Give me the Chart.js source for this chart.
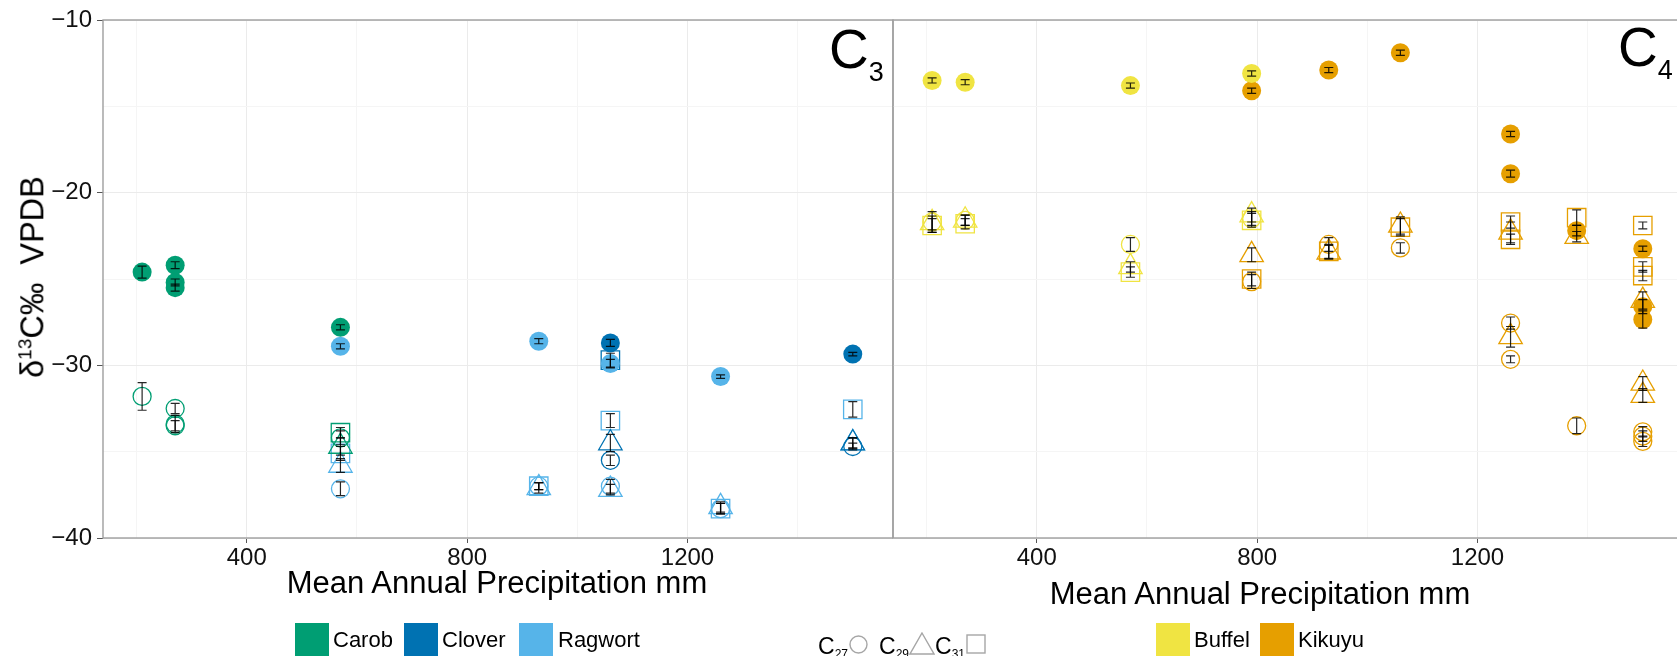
<!DOCTYPE html>
<html>
<head>
<meta charset="utf-8">
<title>d13C vs mean annual precipitation</title>
<script src="https://cdn.jsdelivr.net/npm/chart.js@4.4.1/dist/chart.umd.min.js"></script>
<style>
  html, body { margin: 0; padding: 0; overflow: hidden; background: #fff; }
  body { position: relative; width: 1677px; height: 656px; font-family: "Liberation Sans", Arial, Helvetica, sans-serif; color: #000; }
  canvas { position: absolute; top: 0; }
  #c3Chart { left: 0; }
  #c4Chart { left: 888px; }
  .txt { position: absolute; white-space: nowrap; line-height: 1; }
  .xtitle { font-size: 31px; width: 600px; text-align: center; }
  .panel { font-size: 55px; }
  .panel span { font-size: 27px; position: relative; top: 13px; }
  .sw { position: absolute; top: 623px; width: 34px; height: 34px; }
  .key { font-size: 22px; top: 629px; }
  .shp { font-size: 23px; top: 635px; }
  .shp sub { font-size: 12px; vertical-align: -4px; }
  .icon { position: absolute; }
  #ytitle { font-size: 32.5px; left: 32px; top: 277px; transform: translate(-50%, -50%) rotate(-90deg); }
  #ytitle sup { font-size: 19px; }
</style>
</head>
<body>
<canvas id="c3Chart" width="900" height="656"></canvas>
<canvas id="c4Chart" width="800" height="656"></canvas>

<div class="txt" id="ytitle">&delta;<sup>13</sup>C&permil;&nbsp; VPDB</div>
<div class="txt xtitle" style="left:197px; top:567px;">Mean Annual Precipitation mm</div>
<div class="txt xtitle" style="left:960px; top:578px;">Mean Annual Precipitation mm</div>
<div class="txt panel" style="left:829px; top:22px;">C<span>3</span></div>
<div class="txt panel" style="left:1618px; top:20px;">C<span>4</span></div>

<div class="sw" style="left:295px; background:#009E73;"></div>
<div class="txt key" style="left:333px;">Carob</div>
<div class="sw" style="left:404px; background:#0072B2;"></div>
<div class="txt key" style="left:442px;">Clover</div>
<div class="sw" style="left:519px; background:#56B4E9;"></div>
<div class="txt key" style="left:558px;">Ragwort</div>

<div class="txt shp" style="left:818px;">C<sub>27</sub></div>
<svg class="icon" style="left:849px; top:635px;" width="19" height="19"><circle cx="9.5" cy="9.5" r="8.5" fill="none" stroke="#a6a6a6" stroke-width="1.4"/></svg>
<div class="txt shp" style="left:879px;">C<sub>29</sub></div>
<svg class="icon" style="left:909px; top:632px;" width="26" height="23"><polygon points="13,1 25,22 1,22" fill="none" stroke="#a6a6a6" stroke-width="1.4"/></svg>
<div class="txt shp" style="left:935px;">C<sub>31</sub></div>
<svg class="icon" style="left:966px; top:634px;" width="20" height="20"><rect x="1" y="1" width="18" height="18" fill="none" stroke="#a6a6a6" stroke-width="1.4"/></svg>

<div class="sw" style="left:1156px; background:#F0E442;"></div>
<div class="txt key" style="left:1194px;">Buffel</div>
<div class="sw" style="left:1260px; background:#E69F00;"></div>
<div class="txt key" style="left:1298px;">Kikuyu</div>

<script>
// axis ticks
const xGrid = [200, 400, 600, 800, 1000, 1200, 1400];
const xLabels = [400, 800, 1200];
const yGrid = [-40, -35, -30, -25, -20, -15, -10];
const yLabels = [-40, -30, -20, -10];

// rows are [mean annual precipitation mm, d13C permil, error]
// C3 plants
const carobBulk = [[210, -24.6, 0.35], [270, -24.2, 0.2], [270, -25.2, 0.2], [270, -25.5, 0.2], [570, -27.8, 0.15]];
const carobC27 = [[210, -31.8, 0.8], [270, -32.5, 0.3], [270, -33.4, 0.5], [270, -33.5, 0.3], [570, -34.2, 0.4]];
const carobC29 = [[570, -34.7, 0.5]];
const carobC31 = [[570, -33.9, 0.3]];

const cloverBulk = [[1060, -28.7, 0.2], [1500, -29.35, 0.1]];
const cloverC27 = [[1060, -35.5, 0.3], [1500, -34.7, 0.2]];
const cloverC29 = [[1060, -34.5, 0.5], [1500, -34.5, 0.3]];
const cloverC31 = [[1060, -29.7, 0.4]];

const ragwortBulk = [[570, -28.9, 0.15], [930, -28.6, 0.15], [1060, -29.9, 0.25], [1260, -30.65, 0.1]];
const ragwortC27 = [[570, -37.15, 0.4], [930, -37.0, 0.2], [1060, -37.0, 0.4], [1260, -38.3, 0.3]];
const ragwortC29 = [[570, -35.8, 0.4], [930, -37.1, 0.3], [1060, -37.2, 0.3], [1260, -38.2, 0.3], [1500, -34.5, 0.3]];
const ragwortC31 = [[570, -35.1, 0.4], [930, -37.0, 0.2], [1060, -33.2, 0.4], [1260, -38.3, 0.3], [1500, -32.55, 0.45]];

// C4 plants
const buffelBulk = [[210, -13.5, 0.15], [270, -13.6, 0.15], [570, -13.8, 0.15], [790, -13.1, 0.15]];
const buffelC27 = [[210, -21.7, 0.6], [270, -21.6, 0.3], [570, -23.0, 0.4], [790, -21.5, 0.4]];
const buffelC29 = [[210, -21.75, 0.4], [270, -21.6, 0.3], [570, -24.3, 0.3], [790, -21.3, 0.4]];
const buffelC31 = [[210, -21.9, 0.4], [270, -21.8, 0.3], [570, -24.6, 0.3], [790, -21.6, 0.4]];

const kikuyuBulk = [[790, -14.1, 0.15], [930, -12.9, 0.15], [1060, -11.9, 0.15], [1260, -16.6, 0.15], [1260, -18.9, 0.2],
                    [1380, -22.2, 0.3], [1500, -23.25, 0.15], [1500, -26.6, 0.4], [1500, -27.35, 0.5]];
const kikuyuC27 = [[790, -25.15, 0.4], [930, -23.0, 0.4], [1060, -23.2, 0.3], [1260, -27.55, 0.35], [1260, -29.65, 0.2],
                   [1380, -33.5, 0.45], [1500, -33.85, 0.3], [1500, -34.1, 0.3], [1500, -34.4, 0.3]];
const kikuyuC29 = [[790, -23.6, 0.4], [930, -23.45, 0.4], [1060, -21.9, 0.5], [1260, -22.3, 0.6], [1260, -28.35, 0.6],
                   [1380, -22.55, 0.3], [1500, -26.25, 0.5], [1500, -31.05, 0.4], [1500, -31.75, 0.4]];
const kikuyuC31 = [[790, -25.0, 0.4], [930, -23.4, 0.4], [1060, -22.0, 0.5], [1260, -21.7, 0.35], [1260, -22.7, 0.3],
                   [1380, -21.45, 0.45], [1500, -21.9, 0.2], [1500, -24.3, 0.3], [1500, -24.8, 0.3]];

const FONT = '"Liberation Sans", Arial, Helvetica, sans-serif';

// one dataset per species and marker type
function series(label, rows, color, kind) {
    const ds = {
        label: label,
        data: rows.map(r => ({ x: r[0], y: r[1], err: r[2] })),
        borderColor: color
    };
    if (kind === 'bulk') {
        return Object.assign(ds, { pointStyle: 'circle', pointRadius: 9.5, backgroundColor: color, borderWidth: 0, order: 0 });
    }
    const shape = { c27: ['circle', 9], c29: ['triangle', 13.5], c31: ['rect', 13] }[kind];
    return Object.assign(ds, {
        pointStyle: shape[0], pointRadius: shape[1],
        backgroundColor: 'rgba(0,0,0,0)', borderWidth: 1.3, order: 1
    });
}

// black error bars with caps, positioned through the chart scales
const errorBars = {
    id: 'errorBars',
    afterDatasetsDraw(chart) {
        const { ctx, chartArea, scales } = chart;
        ctx.save();
        ctx.beginPath();
        ctx.rect(chartArea.left, chartArea.top, chartArea.right - chartArea.left, chartArea.bottom - chartArea.top);
        ctx.clip();
        ctx.strokeStyle = 'rgba(0,0,0,0.85)';
        ctx.lineWidth = 1.2;
        chart.data.datasets.forEach(ds => {
            ds.data.forEach(p => {
                const px = scales.x.getPixelForValue(p.x);
                const top = scales.y.getPixelForValue(p.y + p.err);
                const bot = scales.y.getPixelForValue(p.y - p.err);
                ctx.beginPath();
                ctx.moveTo(px, top); ctx.lineTo(px, bot);
                ctx.moveTo(px - 4.5, top); ctx.lineTo(px + 4.5, top);
                ctx.moveTo(px - 4.5, bot); ctx.lineTo(px + 4.5, bot);
                ctx.stroke();
            });
        });
        ctx.restore();
    }
};

// grey panel border
const panelBorder = {
    id: 'panelBorder',
    afterDraw(chart) {
        const { ctx, chartArea } = chart;
        ctx.save();
        ctx.strokeStyle = '#9e9e9e';
        ctx.lineWidth = 1.4;
        ctx.strokeRect(chartArea.left, chartArea.top, chartArea.right - chartArea.left, chartArea.bottom - chartArea.top);
        ctx.restore();
    }
};

function makePanel(id, datasets, showY) {
    new Chart(document.getElementById(id), {
        type: 'scatter',
        data: { datasets: datasets },
        plugins: [errorBars, panelBorder],
        options: {
            responsive: false,
            animation: false,
            devicePixelRatio: 1,
            layout: {
                autoPadding: false,
                padding: { top: 20, right: showY ? 7 : 5, left: showY ? 0 : 5, bottom: 0 }
            },
            plugins: { legend: { display: false }, tooltip: { enabled: false } },
            scales: {
                x: {
                    type: 'linear',
                    min: 139,
                    max: 1573,
                    afterBuildTicks: s => { s.ticks = xGrid.map(v => ({ value: v })); },
                    afterFit: s => { s.height = 118; },
                    border: { display: false },
                    grid: {
                        color: c => (c.tick && xLabels.includes(c.tick.value)) ? '#ebebeb' : '#f5f5f5',
                        tickColor: c => (c.tick && xLabels.includes(c.tick.value)) ? '#555' : 'rgba(0,0,0,0)',
                        lineWidth: 1,
                        tickLength: 5
                    },
                    ticks: {
                        autoSkip: false,
                        maxRotation: 0,
                        padding: 1,
                        color: '#111',
                        font: { family: FONT, size: 24 },
                        callback: v => xLabels.includes(v) ? String(v) : ''
                    }
                },
                y: {
                    type: 'linear',
                    min: -40,
                    max: -10,
                    afterBuildTicks: s => { s.ticks = yGrid.map(v => ({ value: v })); },
                    afterFit: s => { s.width = showY ? 103 : 0; },
                    border: { display: false },
                    grid: {
                        color: c => (c.tick && yLabels.includes(c.tick.value)) ? '#ebebeb' : '#f5f5f5',
                        tickColor: c => (showY && c.tick && yLabels.includes(c.tick.value)) ? '#555' : 'rgba(0,0,0,0)',
                        lineWidth: 1,
                        drawTicks: showY,
                        tickLength: 6
                    },
                    ticks: {
                        display: showY,
                        padding: 5,
                        color: '#111',
                        font: { family: FONT, size: 24 },
                        callback: v => yLabels.includes(v) ? '\u2212' + Math.abs(v) : ''
                    }
                }
            }
        }
    });
}

makePanel('c3Chart', [
    series('Carob', carobBulk, '#009E73', 'bulk'),
    series('Clover', cloverBulk, '#0072B2', 'bulk'),
    series('Ragwort', ragwortBulk, '#56B4E9', 'bulk'),
    series('Carob C31', carobC31, '#009E73', 'c31'),
    series('Carob C29', carobC29, '#009E73', 'c29'),
    series('Carob C27', carobC27, '#009E73', 'c27'),
    series('Clover C31', cloverC31, '#0072B2', 'c31'),
    series('Clover C29', cloverC29, '#0072B2', 'c29'),
    series('Clover C27', cloverC27, '#0072B2', 'c27'),
    series('Ragwort C31', ragwortC31, '#56B4E9', 'c31'),
    series('Ragwort C29', ragwortC29, '#56B4E9', 'c29'),
    series('Ragwort C27', ragwortC27, '#56B4E9', 'c27')
], true);

makePanel('c4Chart', [
    series('Buffel', buffelBulk, '#F0E442', 'bulk'),
    series('Kikuyu', kikuyuBulk, '#E69F00', 'bulk'),
    series('Buffel C31', buffelC31, '#F0E442', 'c31'),
    series('Buffel C29', buffelC29, '#F0E442', 'c29'),
    series('Buffel C27', buffelC27, '#F0E442', 'c27'),
    series('Kikuyu C31', kikuyuC31, '#E69F00', 'c31'),
    series('Kikuyu C29', kikuyuC29, '#E69F00', 'c29'),
    series('Kikuyu C27', kikuyuC27, '#E69F00', 'c27')
], false);
</script>
</body>
</html>
